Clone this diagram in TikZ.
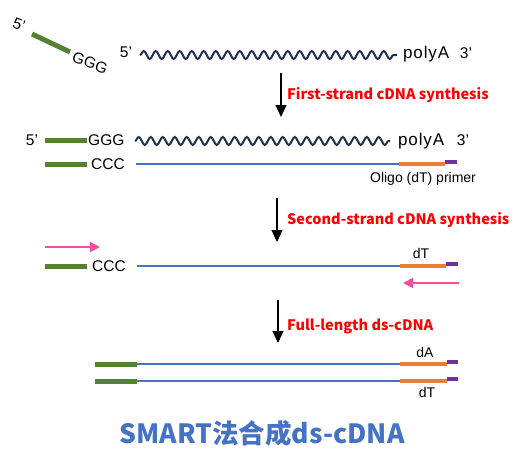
\documentclass[tikz,border=0pt]{standalone}
\usepackage{fontspec}
\setmainfont{Liberation Sans}
\newfontfamily\cjkfont{Noto Sans CJK SC}
\usetikzlibrary{arrows.meta,decorations.pathmorphing}

\definecolor{verde}{RGB}{84,130,53}
\definecolor{azul}{RGB}{68,114,196}
\definecolor{laranja}{RGB}{237,125,49}
\definecolor{roxo}{RGB}{112,48,160}
\definecolor{rosa}{RGB}{240,80,160}
\definecolor{vermelho}{RGB}{255,0,0}
\definecolor{marinho}{RGB}{31,47,79}

\begin{document}
\begin{tikzpicture}[
  x=1pt, y=-1pt,
  base/.style={font=\fontsize{15.5}{18}\selectfont, inner sep=0pt},
  poli/.style={base, font=\fontsize{17}{19}\selectfont\addfontfeature{LetterSpace=5}},
  marca/.style={font=\fontsize{14}{16}\selectfont, inner sep=0pt},
  rotulo/.style={font=\cjkfont\bfseries\fontsize{14.5}{17}\selectfont, text=vermelho,
                 anchor=west, inner sep=0pt},
  titulo/.style={font=\cjkfont\bfseries\fontsize{26.5}{30}\selectfont, text=azul, inner sep=0pt},
  onda/.style={draw=marinho, line width=2pt, decorate,
               decoration={snake, segment length=12pt, amplitude=4pt}},
  adaptador/.style={draw=verde, line width=5pt},
  fita/.style={draw=azul, line width=2.8pt},
  oligo/.style={draw=laranja, line width=4.5pt},
  ancora/.style={draw=roxo, line width=4pt},
  seta/.style={-{Triangle[width=11pt,length=12pt]}, line width=1.1pt, draw=black},
  primer/.style={-{Triangle[width=10pt,length=10pt]}, line width=1.8pt, draw=rosa}
]
\useasboundingbox (0,0) rectangle (529,471);

% ---------------- Linha 1: mRNA e oligo SMART ----------------
\node[base, rotate=-20] (l1p5) at (19,25) {5’};
\draw[adaptador] (32,34) -- (70,52);
\node[base, rotate=-20] (l1ggg) at (90,63) {GGG};
\node[base] (l1m5) at (126,52) {5’};
\draw[onda] (140,55) -- (397,55);
\node[poli, anchor=base west] (l1poly) at (403,58) {polyA};
\node[base, anchor=base] (l1m3) at (466,58) {3’};

% ---------------- Passo 1 ----------------
\coordinate (s1a) at (281,73);
\coordinate (s1b) at (281,117);
\draw[seta] (s1a) -- (s1b);
\node[rotulo] (r1) at (287,95) {First-strand cDNA synthesis};

% ---------------- Linha 2: primeira fita ----------------
\node[base] (l2p5) at (32,140) {5’};
\draw[adaptador] (45,140) -- (87,140);
\node[base, anchor=west] (l2ggg) at (88,140) {GGG};
\draw[onda] (135,141) -- (390,141);
\node[poli, anchor=base west] (l2poly) at (398,145) {polyA};
\node[base, anchor=base] (l2m3) at (463,145) {3’};

\draw[adaptador] (45,164) -- (87,164);
\node[base, anchor=west] (l2ccc) at (91,164) {CCC};
\draw[fita] (136,164) -- (399,164);
\draw[oligo] (399,164) -- (445,164);
\draw[ancora] (445,162) -- (457,162);
\node[marca] (l2oligo) at (423,179) {Oligo (dT) primer};

% ---------------- Passo 2 ----------------
\coordinate (s2a) at (277,198);
\coordinate (s2b) at (277,242);
\draw[seta] (s2a) -- (s2b);
\node[rotulo] (r2) at (287,220) {Second-strand cDNA synthesis};

% ---------------- Linha 3: segunda fita ----------------
\coordinate (pfa) at (45,247);
\coordinate (pfb) at (100,247);
\draw[primer] (pfa) -- (pfb);
\draw[adaptador] (45,266) -- (87,266);
\node[base, anchor=west] (l3ccc) at (92,266) {CCC};
\draw[fita] (137,266) -- (400,266);
\draw[oligo] (400,266) -- (446,266);
\draw[ancora] (446,264) -- (458,264);
\node[marca] (l3dt) at (421,253) {dT};
\coordinate (pra) at (459,283);
\coordinate (prb) at (403,283);
\draw[primer] (pra) -- (prb);

% ---------------- Passo 3 ----------------
\coordinate (s3a) at (278,300);
\coordinate (s3b) at (278,343);
\draw[seta] (s3a) -- (s3b);
\node[rotulo] (r3) at (287,326) {Full-length ds-cDNA};

% ---------------- Linha 4: cDNA dupla fita ----------------
\draw[adaptador] (95,364) -- (137,364);
\draw[fita] (137,364) -- (400,364);
\draw[oligo] (400,364) -- (447,364);
\draw[ancora] (447,362) -- (458,362);
\node[marca] (l4da) at (425,352) {dA};

\draw[adaptador] (95,381) -- (137,381);
\draw[fita] (137,381) -- (400,381);
\draw[oligo] (400,381) -- (447,381);
\draw[ancora] (447,379) -- (458,379);
\node[marca] (l4dt) at (427,392) {dT};

% ---------------- Titulo ----------------
\node[titulo] (tit) at (262,433) {SMART法合成ds-cDNA};

\end{tikzpicture}
\end{document}
